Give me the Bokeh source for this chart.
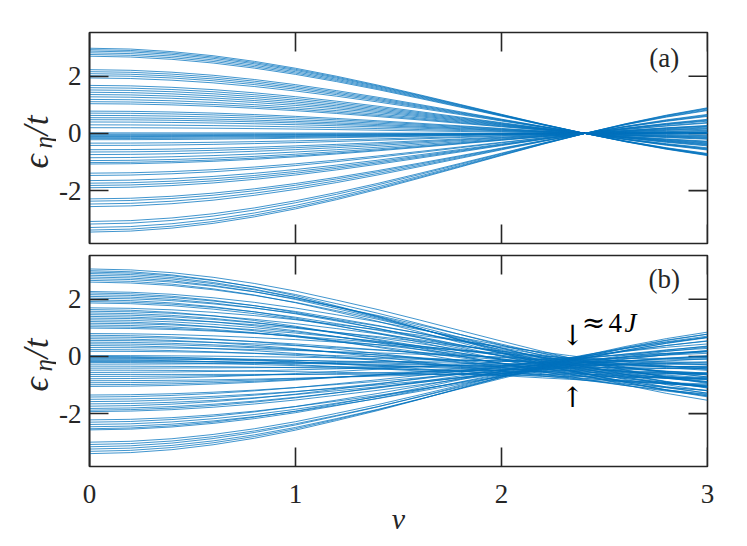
from bokeh.plotting import figure
from bokeh.models import Range1d, FixedTicker
from bokeh.core.properties import value
from bokeh.layouts import column, row
from bokeh.embed import file_html
from bokeh.resources import INLINE

# ---------------- data ----------------
# panel (a): band energies at nu = 0
top_start = [2.98, 2.93, 2.88, 2.82, 2.76, 2.70,
             2.23, 2.16, 2.09, 2.02, 1.94,
             1.68, 1.60, 1.52, 1.44, 1.36, 1.28, 1.19, 1.11, 1.04,
             0.78, 0.71, 0.63, 0.55, 0.48, 0.40, 0.30, 0.20,
             0.02, -0.02, -0.05, -0.08, -0.11, -0.14, -0.18, -0.22,
             -0.34, -0.42, -0.57, -0.65, -0.74, -0.85, -0.95, -1.02, -1.07,
             -1.39, -1.47, -1.65, -1.74, -1.82, -1.90,
             -2.29, -2.37, -2.47, -2.56,
             -3.08, -3.17, -3.29, -3.38, -3.45]
# band-width renormalisation read along nu (panel a)
nu_a = [0.0, 0.2, 0.4, 0.6, 0.8, 1.0, 1.2, 1.4, 1.6, 1.8, 2.0, 2.2, 2.405, 2.6, 2.8, 3.0]
scale_a = [1.0, 0.990, 0.960, 0.912, 0.846, 0.765, 0.671, 0.567, 0.455, 0.340,
           0.224, 0.110, 0.0, -0.097, -0.185, -0.260]

# panel (b): energies at nu = 0 and the level where each line sits at the pinch
bot_start = [3.06, 3.00, 2.95, 2.90, 2.84, 2.78, 2.72, 2.66, 2.60,
             2.27, 2.22, 2.16, 2.10, 2.04, 1.98, 1.92, 1.87,
             1.70, 1.64, 1.58, 1.52, 1.46, 1.40, 1.34, 1.28, 1.22, 1.16, 1.10, 1.04, 0.99,
             0.80, 0.74, 0.68, 0.62, 0.56, 0.50, 0.44, 0.38, 0.31, 0.24, 0.18,
             0.03, 0.00, -0.03, -0.06, -0.09, -0.12, -0.15, -0.18, -0.21,
             -0.27, -0.34, -0.41, -0.48, -0.56, -0.63, -0.70, -0.78, -0.85, -0.92, -0.99, -1.05,
             -1.35, -1.42, -1.50, -1.58, -1.66, -1.74, -1.82, -1.88, -1.93,
             -2.22, -2.30, -2.38, -2.46, -2.53, -2.57,
             -3.00, -3.08, -3.16, -3.24, -3.32, -3.40]
bot_pinch = [-0.05, -0.52, -0.20, -0.45, -0.30, -0.38, -0.10, -0.48, -0.25,
             -0.05, -0.50, -0.20, -0.35, -0.10, -0.60, -0.28, -0.42,
             0.03, -0.70, -0.15, -0.50, -0.30, -0.62, -0.08, -0.40, -0.75, -0.22, -0.55, -0.35, -0.12,
             -0.05, -0.65, -0.30, -0.78, -0.18, -0.50, -0.40, -0.72, -0.10, -0.58, -0.25,
             -0.20, -0.75, -0.45, -0.60, -0.30, -0.80, -0.50, -0.38, -0.66,
             -0.10, -0.55, -0.30, -0.70, -0.20, -0.62, -0.42, -0.05, -0.50, -0.35, -0.25, -0.15,
             -0.30, -0.10, -0.40, -0.20, -0.35, -0.05, -0.25, -0.15, -0.30,
             -0.35, -0.10, -0.25, -0.30, -0.05, -0.15,
             -0.12, -0.18, -0.10, -0.20, -0.14, -0.10]
nu_b = [0.0, 0.2, 0.4, 0.6, 0.8, 1.0, 1.2, 1.4, 1.6, 1.8, 2.0, 2.2, 2.33, 2.4, 2.6, 2.8, 3.0]
scale_b = [1.0, 0.989, 0.958, 0.906, 0.837, 0.751, 0.649, 0.543, 0.427, 0.307,
           0.188, 0.072, 0.0, -0.039, -0.135, -0.219, -0.288]

x_ticks = [0, 1, 2, 3]
x_tick_labels = ["0", "1", "2", "3"]
y_ticks = [-2, 0, 2]
y_tick_labels = {-2: "-2", 0: "0", 2: "2"}
X0, X1 = 0.0, 3.0
Y0, Y1 = -3.85, 3.53

# ---------------- styling ----------------
FONT = "Liberation Serif"
AX = "#262626"
BLUE = "#0072BD"
FW, FH = 618, 211          # frame size
LW = 56                    # width of the y-label strip
BL, BR = 33, 28            # borders of the panels
TICK = 19                  # tick length, px


def style_axis(ax, standoff):
    ax.axis_line_color = AX
    ax.axis_line_width = 1.6
    ax.major_tick_line_color = AX
    ax.major_tick_line_width = 1.6
    ax.major_tick_in = TICK
    ax.major_tick_out = 0
    ax.minor_tick_line_color = None
    ax.major_label_text_font = FONT
    ax.major_label_text_color = AX
    ax.major_label_standoff = standoff
    ax.major_label_text_font_size = "27px"


def make_panel(bt, bb):
    p = figure(frame_width=FW, frame_height=FH, output_backend="svg",
               toolbar_location=None, x_range=Range1d(X0, X1),
               y_range=Range1d(Y0, Y1),
               min_border_left=BL, min_border_right=BR,
               min_border_top=bt, min_border_bottom=bb)
    p.xgrid.visible = False
    p.ygrid.visible = False
    p.outline_line_color = AX
    p.outline_line_width = 1.6
    p.yaxis.ticker = FixedTicker(ticks=y_ticks)
    p.yaxis.major_label_overrides = y_tick_labels
    style_axis(p.yaxis[0], 8)
    p.xaxis.visible = False
    # inward ticks on the other three sides (box on)
    dx = TICK * (X1 - X0) / FW
    dy = TICK * (Y1 - Y0) / FH
    n = len(x_ticks)
    p.segment(x0=x_ticks, x1=x_ticks, y0=[Y1] * n, y1=[Y1 - dy] * n,
              line_color=AX, line_width=1.6)
    p.segment(x0=x_ticks, x1=x_ticks, y0=[Y0] * n, y1=[Y0 + dy] * n,
              line_color=AX, line_width=1.6)
    m = len(y_ticks)
    p.segment(x0=[X1] * m, x1=[X1 - dx] * m, y0=y_ticks, y1=y_ticks,
              line_color=AX, line_width=1.6)
    return p


def make_ylabel(bt, bb):
    q = figure(frame_width=LW, frame_height=FH, output_backend="svg",
               toolbar_location=None, x_range=Range1d(0, LW), y_range=Range1d(Y0, Y1),
               min_border_left=0, min_border_right=0,
               min_border_top=bt, min_border_bottom=bb)
    q.axis.visible = False
    q.grid.visible = False
    q.outline_line_color = None
    common = dict(angle=1.5708, text_font=value(FONT), text_font_style="italic",
                  text_color=AX, text_align="left", text_baseline="alphabetic")
    q.text(x=[36], y=[-1.23], text=["ϵ"], text_font_size=value("35px"), **common)
    q.text(x=[43], y=[-0.53], text=["η"], text_font_size=value("25px"), **common)
    q.text(x=[36], y=[-0.07], text=["/"], text_font_size=value("35px"), **common)
    q.text(x=[36], y=[0.29], text=["t"], text_font_size=value("35px"), **common)
    return q


# ---------------- panel (a) ----------------
pa = make_panel(32, 6)
xs_a = [list(nu_a) for _ in top_start]
ys_a = [[e0 * k for k in scale_a] for e0 in top_start]
pa.multi_line(xs_a, ys_a, line_color=BLUE, line_width=0.75)
pa.text(x=[2.79], y=[2.63], text=["(a)"], text_font=value(FONT), text_font_size=value("27px"),
        text_color=AX, text_align="center", text_baseline="middle")
la = make_ylabel(32, 6)

# ---------------- panel (b) ----------------
pb = make_panel(6, 2)
xs_b = [list(nu_b) for _ in bot_start]
ys_b = [[e0 * k + c * (1 - k) for k in scale_b] for e0, c in zip(bot_start, bot_pinch)]
pb.multi_line(xs_b, ys_b, line_color=BLUE, line_width=0.75)
pb.text(x=[2.79], y=[2.70], text=["(b)"], text_font=value(FONT), text_font_size=value("27px"),
        text_color=AX, text_align="center", text_baseline="middle")
pb.text(x=[2.345, 2.345], y=[0.74, -1.44], text=["↓", "↑"], text_font=value("DejaVu Serif"),
        text_font_size=value("28px"), text_color="black", text_align="center",
        text_baseline="middle")
pb.text(x=[2.447], y=[1.18], text=["≈"], text_font=value("DejaVu Serif"),
        text_font_size=value("28px"), text_color="black", text_align="center",
        text_baseline="middle")
pb.text(x=[2.519], y=[1.16], text=["4"], text_font=value(FONT),
        text_font_size=value("27px"), text_color="black", text_align="left",
        text_baseline="middle")
pb.text(x=[2.597], y=[1.16], text=["J"], text_font=value(FONT), text_font_style="italic",
        text_font_size=value("27px"), text_color="black", text_align="left",
        text_baseline="middle")
lb = make_ylabel(6, 2)

# ---------------- x tick labels and x label strip (same x scale as the panels) ----------------
NH = 62
PADL, PADR = 30, 28
S = (X1 - X0) / FW
nf = figure(frame_width=FW + PADL + PADR, frame_height=NH, output_backend="svg",
            toolbar_location=None,
            x_range=Range1d(X0 - PADL * S, X1 + PADR * S), y_range=Range1d(0, NH),
            min_border_left=LW + BL - PADL, min_border_right=BR - PADR,
            min_border_top=0, min_border_bottom=0)
nf.axis.visible = False
nf.grid.visible = False
nf.outline_line_color = None
nf.text(x=x_ticks, y=[37] * len(x_ticks), text=x_tick_labels, text_font=value(FONT),
        text_font_size=value("27px"), text_color=AX, text_align="center",
        text_baseline="alphabetic")
nf.text(x=[0.5 * (X0 + X1)], y=[12], text=["ν"], text_font=value(FONT),
        text_font_style="italic", text_font_size=value("30px"), text_color=AX,
        text_align="center", text_baseline="alphabetic")

layout = column(row(la, pa), row(lb, pb), nf)
open("out.html", "w").write(file_html(layout, INLINE))
